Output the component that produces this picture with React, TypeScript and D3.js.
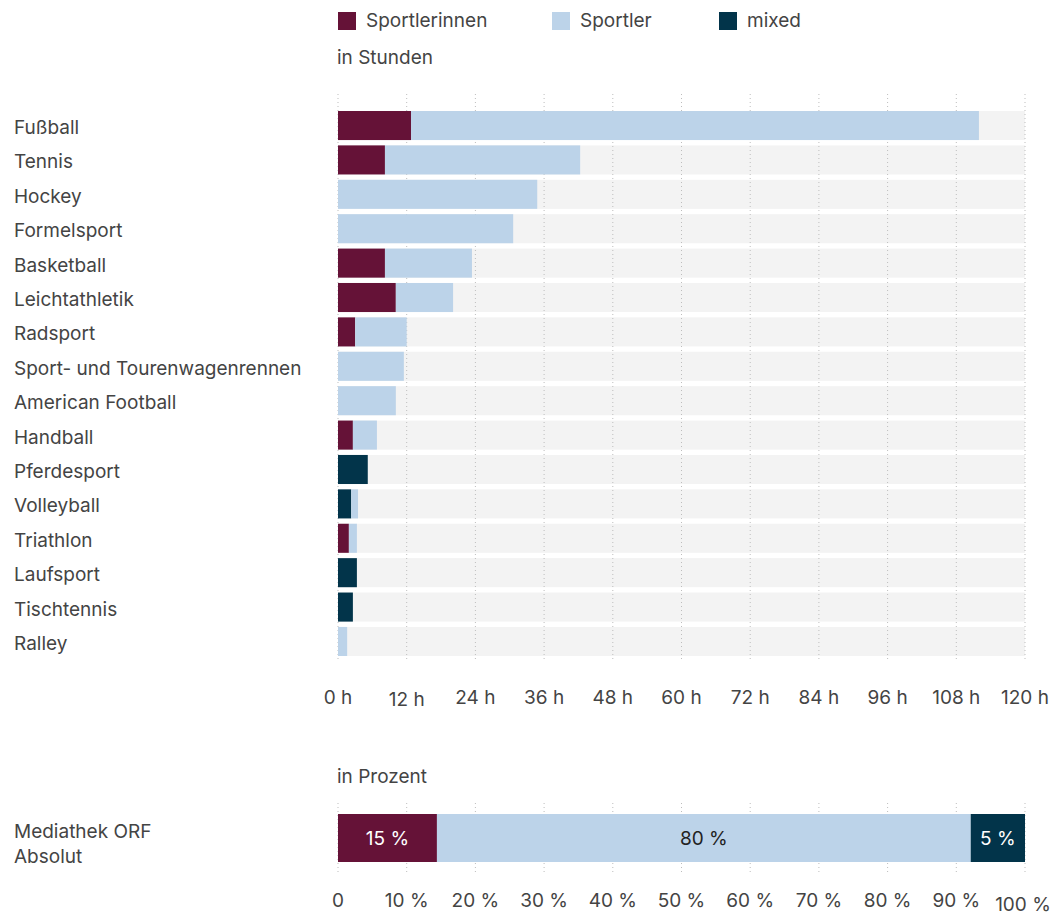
import React from "react";
import * as d3 from "d3";

const categories = [
  "Fußball", "Tennis", "Hockey", "Formelsport", "Basketball", "Leichtathletik",
  "Radsport", "Sport- und Tourenwagenrennen", "American Football", "Handball",
  "Pferdesport", "Volleyball", "Triathlon", "Laufsport", "Tischtennis", "Ralley",
];
const sportlerinnen = [12.75, 8.2, 0, 0, 8.2, 10.1, 3.0, 0, 0, 2.6, 0, 0, 1.9, 0, 0, 0];
const mixed = [0, 0, 0, 0, 0, 0, 0, 0, 0, 0, 5.2, 2.3, 0, 3.3, 2.6, 0];
const sportler = [99.2, 34.1, 34.8, 30.6, 15.2, 10.0, 9.0, 11.5, 10.1, 4.2, 0, 1.2, 1.4, 0, 0, 1.6];
const hourTicks = [0, 12, 24, 36, 48, 60, 72, 84, 96, 108, 120];

const percentCategory = ["Mediathek ORF", "Absolut"];
const percentKeys = ["Sportlerinnen", "Sportler", "mixed"];
const percentValues = [14.4, 77.7, 7.9];
const percentLabels = ["15 %", "80 %", "5 %"];
const percentTicks = [0, 10, 20, 30, 40, 50, 60, 70, 80, 90, 100];

const legendKeys = ["Sportlerinnen", "Sportler", "mixed"];
const COLORS: Record<string, string> = {
  Sportlerinnen: "#651237",
  Sportler: "#bcd3e9",
  mixed: "#02344a",
};
const TEXT = "#444";
const FONT = "Inter, 'Noto Sans', sans-serif";
const FS = 19;

export default function App() {
  const W = 1060, H = 912;
  const x0 = 338, x1 = 1025;
  const x = d3.scaleLinear().domain([0, 120]).range([x0, x1]);
  const y = d3.scaleBand<string>().domain(categories).range([111, 656]).paddingInner(0.155).paddingOuter(0);
  const xp = d3.scaleLinear().domain([0, 100]).range([x0, x1]);

  const rows = categories.map((c, i) => ({
    cat: c,
    Sportlerinnen: sportlerinnen[i],
    mixed: mixed[i],
    Sportler: sportler[i],
  }));
  const stack = d3.stack<any>().keys(["Sportlerinnen", "mixed", "Sportler"]);
  const series = stack(rows);

  const pRow: any = {};
  percentKeys.forEach((k, i) => (pRow[k] = percentValues[i]));
  const pSeries = d3.stack<any>().keys(percentKeys)([pRow]);

  const legendX = [338, 552, 719];
  const pBarY = 814, pBarH = 48;

  return (
    <svg width={W} height={H} style={{ position: "absolute", left: 0, top: 0, background: "#fff" }} fontFamily={FONT}>
      {/* legend */}
      {legendKeys.map((k, i) => (
        <g key={k}>
          <rect x={legendX[i]} y={12} width={18} height={18} fill={COLORS[k]} />
          <text x={legendX[i] + 28} y={27} fontSize={FS} fill={TEXT}>{k}</text>
        </g>
      ))}
      <text x={337} y={64} fontSize={FS} fill={TEXT}>in Stunden</text>

      {/* backgrounds */}
      {categories.map((c) => (
        <rect key={c} x={x0} y={y(c)} width={x1 - x0} height={y.bandwidth()} fill="#f3f3f3" />
      ))}
      {/* grid */}
      {hourTicks.map((t) => (
        <line key={t} x1={x(t)} x2={x(t)} y1={94} y2={662} stroke="#bdbdbd" strokeWidth={1} strokeDasharray="1,3" />
      ))}
      {/* bars */}
      {series.map((s) => (
        <g key={s.key} fill={COLORS[s.key]}>
          {s.map((d: any, i: number) =>
            d[1] - d[0] > 0 ? (
              <rect key={i} x={x(d[0])} y={y(d.data.cat)} width={x(d[1]) - x(d[0])} height={y.bandwidth()} />
            ) : null
          )}
        </g>
      ))}
      {/* category labels */}
      {categories.map((c) => (
        <text key={c} x={14} y={(y(c) as number) + y.bandwidth() / 2 + 8.5} fontSize={FS} fill={TEXT}>{c}</text>
      ))}
      {/* hour axis labels */}
      {hourTicks.map((t) => (
        <text key={t} x={x(t)} y={704 + (t === 12 ? 2 : 0)} fontSize={FS} fill={TEXT} textAnchor="middle">{t} h</text>
      ))}

      {/* percent chart */}
      <text x={337} y={783} fontSize={FS} fill={TEXT}>in Prozent</text>
      {percentTicks.map((t) => (
        <line key={t} x1={xp(t)} x2={xp(t)} y1={803} y2={875} stroke="#bdbdbd" strokeWidth={1} strokeDasharray="1,3" />
      ))}
      {pSeries.map((s, i) => {
        const d: any = s[0];
        const dark = s.key !== "Sportler";
        return (
          <g key={s.key}>
            <rect x={xp(d[0])} y={pBarY} width={xp(d[1]) - xp(d[0])} height={pBarH} fill={COLORS[s.key]} />
            <text x={(xp(d[0]) + xp(d[1])) / 2} y={pBarY + pBarH / 2 + 7} fontSize={FS} textAnchor="middle" fill={dark ? "#fff" : "#222"}>
              {percentLabels[i]}
            </text>
          </g>
        );
      })}
      <text x={14} y={838} fontSize={FS} fill={TEXT}>{percentCategory[0]}</text>
      <text x={14} y={863} fontSize={FS} fill={TEXT}>{percentCategory[1]}</text>
      {percentTicks.map((t) => (
        <text key={t} x={xp(t) - (t === 100 ? 2 : 0)} y={907 + (t === 100 ? 3.5 : 0)} fontSize={FS} fill={TEXT} textAnchor="middle">
          {t === 0 ? "0" : `${t} %`}
        </text>
      ))}
    </svg>
  );
}
